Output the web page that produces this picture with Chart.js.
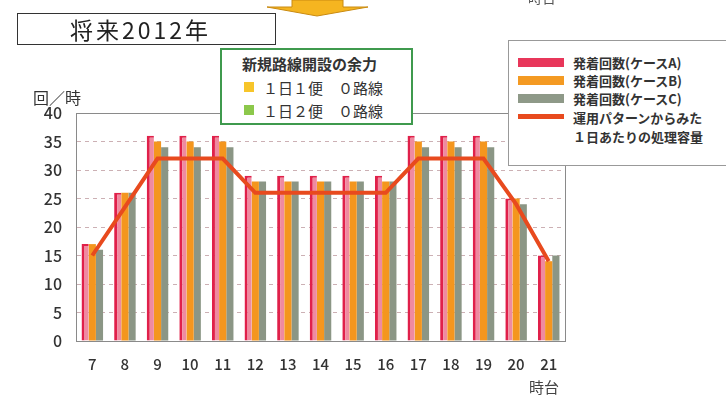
<!DOCTYPE html>
<html><head><meta charset="utf-8">
<script src="https://cdn.jsdelivr.net/npm/chart.js@4"></script>
<style>
html,body{margin:0;padding:0;background:#fff;}
#wrap{position:relative;width:726px;height:395px;overflow:hidden;font-family:"Noto Sans CJK JP","Noto Sans",sans-serif;color:#333;}
canvas{position:absolute;left:0;top:0;}
.abs{position:absolute;white-space:nowrap;}
</style></head><body>
<div id="wrap">
<canvas id="c" width="726" height="395"></canvas>
<svg class="abs" style="left:0;top:0" width="726" height="30">
  <polygon points="292,0 343,0 343,7 368,7 317,16 267,7 292,7" fill="#f5b520" stroke="#c98a10" stroke-width="1"/>
</svg>
<div class="abs" style="left:528px;top:-13px;font-size:14px;color:#555;">時台</div>
<div class="abs" style="left:17px;top:13px;width:257px;height:30px;border:1px solid #333;background:#fff;font-size:23px;line-height:30px;color:#222;"><span style="position:absolute;left:52px;letter-spacing:3px;">将来2012年</span></div>
<div class="abs" style="left:220px;top:48px;width:189px;height:73px;border:2px solid #3f9a4e;background:#fff;font-size:15px;">
  <div class="abs" style="left:20px;top:3px;font-weight:bold;">新規路線開設の余力</div>
  <div class="abs" style="left:22px;top:32px;width:10px;height:10px;background:#f7c52a;"></div>
  <div class="abs" style="left:41px;top:27px;">１日１便　０路線</div>
  <div class="abs" style="left:22px;top:55px;width:10px;height:10px;background:#8cc84b;"></div>
  <div class="abs" style="left:41px;top:50px;">１日２便　０路線</div>
</div>
<div class="abs" style="left:508px;top:40px;width:230px;height:124px;border:1px solid #999;background:#fff;font-size:13px;font-weight:bold;color:#333;">
  <div class="abs" style="left:9px;top:17px;width:46px;height:9px;background:#e8365a;"></div>
  <div class="abs" style="left:64px;top:12px;">発着回数(ケースA)</div>
  <div class="abs" style="left:9px;top:35px;width:46px;height:9px;background:#f49a22;"></div>
  <div class="abs" style="left:64px;top:30px;">発着回数(ケースB)</div>
  <div class="abs" style="left:9px;top:53px;width:46px;height:9px;background:#8e9988;"></div>
  <div class="abs" style="left:64px;top:48px;">発着回数(ケースC)</div>
  <div class="abs" style="left:9px;top:73px;width:46px;height:5px;background:#e84a1e;"></div>
  <div class="abs" style="left:64px;top:67px;">運用パターンからみた</div>
  <div class="abs" style="left:64px;top:86px;">１日あたりの処理容量</div>
</div>
<div class="abs" style="left:33px;top:85px;font-size:16px;color:#333;">回／時</div>
<div class="abs" style="left:529px;top:376px;font-size:15px;color:#444;">時台</div>
</div>
<script>
const categories = ['7','8','9','10','11','12','13','14','15','16','17','18','19','20','21'];
const caseA = [17,26,36,36,36,29,29,29,29,29,36,36,36,25,15];
const caseB = [17,26,35,35,35,28,28,28,28,28,35,35,35,25,14];
const caseC = [16,26,34,34,34,28,28,28,28,28,34,34,34,24,15];
const capacity = [15,23.5,32,32,32,26,26,26,26,26,32,32,32,24,14];
const yTicks = [0,5,10,15,20,25,30,35,40];

const borderPlugin = {
  id:'borderPlugin',
  afterDatasetsDraw(chart){
    const {ctx, chartArea:a} = chart;
    ctx.save();
    ctx.strokeStyle='#8a8a8a';ctx.lineWidth=1;
    ctx.strokeRect(a.left+0.5,a.top+0.5,a.right-a.left,a.bottom-a.top);
    ctx.restore();
  }
};

new Chart(document.getElementById('c'),{
  data:{
    labels:categories,
    datasets:[
      {type:'line',label:'運用パターンからみた1日あたりの処理容量',data:capacity,borderColor:'#e84a1e',borderWidth:4,pointRadius:0,tension:0,order:0},
      {type:'bar',label:'発着回数(ケースA)',data:caseA,backgroundColor:'#ef8aa0',borderColor:'#e0204a',borderWidth:{left:3,top:2,right:0,bottom:0},borderSkipped:false,order:1,categoryPercentage:0.66,barPercentage:1},
      {type:'bar',label:'発着回数(ケースB)',data:caseB,backgroundColor:'#f4961e',borderWidth:0,order:1,categoryPercentage:0.66,barPercentage:1},
      {type:'bar',label:'発着回数(ケースC)',data:caseC,backgroundColor:'#8b9685',borderWidth:0,order:1,categoryPercentage:0.66,barPercentage:1}
    ]
  },
  options:{
    responsive:false,animation:false,
    layout:{padding:{top:113,right:161,bottom:0,left:0}},
    plugins:{legend:{display:false},tooltip:{enabled:false}},
    scales:{
      x:{offset:true,grid:{display:false,drawTicks:false},border:{display:false},
         ticks:{padding:14,color:'#333',font:{family:'Noto Sans CJK JP',size:15,weight:'500'}},
         afterFit(s){s.height=54;}},
      y:{min:0,max:40,afterBuildTicks(s){s.ticks=yTicks.map(v=>({value:v}));},
         grid:{color:(c)=> (c.tick.value===0||c.tick.value===40)?'rgba(0,0,0,0)':'#ccb0b4',lineWidth:1,drawTicks:false},
         border:{display:true,color:'rgba(0,0,0,0)',dash:[4,4]},
         ticks:{padding:14,color:'#333',font:{family:'Noto Sans CJK JP',size:16,weight:'500'}},
         afterFit(s){s.width=76;}}
    }
  },
  plugins:[borderPlugin]
});
</script>
</body></html>
